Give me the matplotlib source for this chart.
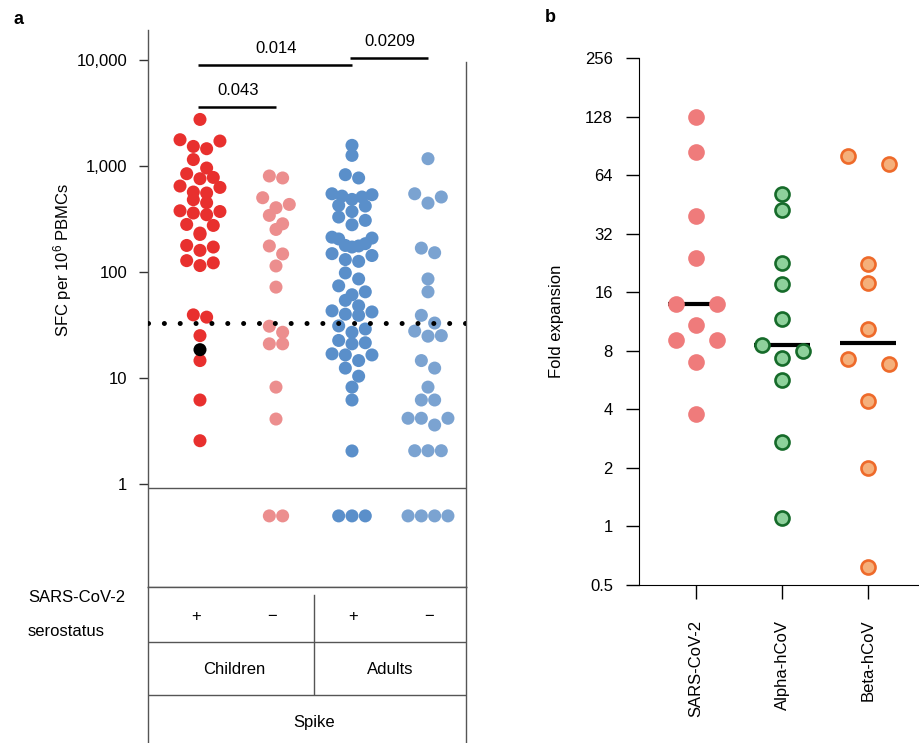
import numpy as np
import matplotlib
matplotlib.use("Agg")
import matplotlib.pyplot as plt

plt.rcParams['font.family'] = ['Liberation Sans', 'DejaVu Sans']
plt.rcParams['mathtext.fontset'] = 'custom'
plt.rcParams['mathtext.rm'] = 'Liberation Sans'
plt.rcParams['mathtext.it'] = 'Liberation Sans:italic'
plt.rcParams['mathtext.bf'] = 'Liberation Sans:bold'

# ---------------- data: panel a ----------------
children_pos = [2750, 1770, 1720, 1530, 1456, 1150, 957, 846, 780, 759, 647, 628,
                568, 556, 481, 450, 378, 372, 360, 347, 281, 275, 233, 226, 178,
                172, 160, 128, 122, 115, 39.4, 37.5, 25.1, 14.6, 6.2, 2.56]
children_pos_black = [18.5]
children_neg = [805, 771, 502, 434, 404, 342, 285, 252, 176, 148, 114, 72, 30.8,
                27, 21, 21, 8.2, 4.1, 0.5, 0.5]
adults_pos = [1566, 1259, 828, 771, 547, 536, 520, 510, 484, 425, 419, 372, 330,
              307, 279, 213, 209, 205, 185, 178, 176, 172, 149, 143, 131, 126, 98,
              86, 74, 65, 61, 54, 48, 43, 42, 40, 39, 31, 29, 27, 22.6, 21.5, 21,
              16.9, 16.5, 16.5, 14.6, 12.4, 10.4, 8.2, 6.2, 2.05, 0.5, 0.5, 0.5]
adults_neg = [1172, 547, 510, 447, 168, 152, 86, 65, 39, 33, 27.7, 25.1, 24.8, 14.6,
              12.4, 8.2, 6.2, 6.2, 4.17, 4.17, 4.17, 3.6, 2.06, 2.06, 2.06,
              0.5, 0.5, 0.5, 0.5]
serostatus = ['+', '\u2212', '+', '\u2212']
age_groups = ['Children', 'Adults']
antigen = 'Spike'
threshold = 33
lod_line = 0.92
yticks_a = [1, 10, 100, 1000, 10000]
yticklabels_a = ['1', '10', '100', '1,000', '10,000']
sig_pairs = [(0, 1), (0, 2), (2, 3)]
sig_labels = ['0.043', '0.014', '0.0209']
sig_heights = [3600, 8970, 10450]

# ---------------- data: panel b ----------------
b_groups = ['SARS-CoV-2', 'Alpha-hCoV', 'Beta-hCoV']
sars = [127, 84, 39.4, 24.1, 13.9, 13.9, 10.9, 9.04, 9.04, 7.0, 3.77]
alpha = [51.4, 42.5, 22.6, 17.7, 11.7, 8.56, 8.0, 7.36, 5.67, 2.71, 1.11]
beta = [80.3, 73.4, 22.4, 17.9, 10.3, 7.25, 6.88, 4.43, 1.99, 0.618]
yticks_b = [0.5, 1, 2, 4, 8, 16, 32, 64, 128, 256]
yticklabels_b = ['0.5', '1', '2', '4', '8', '16', '32', '64', '128', '256']

# ---------------- helpers ----------------
W, H = 919, 743


def px_rect(left, top, right, bottom):
    return [left / W, 1 - bottom / H, (right - left) / W, (bottom - top) / H]


def row_offsets(n, slot, even_skip_center, cap):
    if n % 2 == 1:
        k = np.arange(n) - (n - 1) / 2
    else:
        half = np.arange(1, n // 2 + 1) if even_skip_center else np.arange(n // 2) + 0.5
        k = np.concatenate([-half, half])
    offs = k * slot
    if cap is not None and np.abs(offs).max() > cap:
        offs = offs * cap / np.abs(offs).max()
    return sorted(offs, key=lambda o: (-abs(o), o))


def swarm_x(ax, values, center, slot_px, row_px, even_skip_center=False, cap_px=None):
    vals = np.asarray(values, float)
    idx = np.argsort(-vals, kind='stable')
    ypx = ax.transData.transform(np.column_stack([np.zeros_like(vals), vals]))[:, 1]
    ppu = ax.transData.transform((1, 1))[0] - ax.transData.transform((0, 1))[0]
    xs = np.full(len(vals), float(center))
    i = 0
    while i < len(idx):
        start = ypx[idx[i]]
        j = i
        while j < len(idx) and start - ypx[idx[j]] <= row_px:
            j += 1
        members = idx[i:j]
        offs = row_offsets(len(members), slot_px, even_skip_center, cap_px)
        for m, o in zip(members, offs):
            xs[m] = center + o / ppu
        i = j
    return xs


fig = plt.figure(figsize=(W / 100, H / 100), dpi=100)
grey = '#555555'

# ---------------- panel a ----------------
ax = fig.add_axes(px_rect(148, 30, 466, 587))
ax.set_yscale('log')
ax.set_ylim(0.1067, 19190)
ax.set_xlim(-0.684, 3.5)
for s in ['top']:
    ax.spines[s].set_visible(False)
for s in ['left', 'right', 'bottom']:
    ax.spines[s].set_color(grey)
    ax.spines[s].set_linewidth(1.0)
ax.spines['right'].set_bounds(0.1067, 9570)
ax.set_xticks([])
ax.set_yticks(yticks_a)
ax.set_yticklabels(yticklabels_a)
ax.minorticks_off()
ax.yaxis.set_minor_locator(matplotlib.ticker.NullLocator())
ax.tick_params(axis='y', length=6.5, width=1.0, color='#333333', pad=8.6, labelsize=12)

ax.axhline(lod_line, color=grey, lw=1.0, zorder=1)

dot_s = 88
cp_all = children_pos + children_pos_black
cp_cols = ['#E8302E'] * len(children_pos) + ['#000000'] * len(children_pos_black)
columns = [(cp_all, cp_cols),
           (children_neg, ['#EC8E8E'] * len(children_neg)),
           (adults_pos, ['#5A8FCA'] * len(adults_pos)),
           (adults_neg, ['#7BA3D1'] * len(adults_neg))]
for ci, (vals, cols) in enumerate(columns):
    xs = swarm_x(ax, vals, ci, slot_px=13.3, row_px=10, cap_px=20)
    ax.scatter(xs, vals, s=dot_s, c=cols, linewidths=0, zorder=3)

ax.axhline(threshold, color='k', lw=3.6, linestyle=(0, (0.01, 3.16)),
           dash_capstyle='round', zorder=4)

for (g1, g2), lab, h in zip(sig_pairs, sig_labels, sig_heights):
    ax.plot([g1 - 0.02, g2 + 0.0], [h, h], color='k', lw=1.8, solid_capstyle='butt',
            clip_on=False, zorder=5)
    ax.text((g1 + g2) / 2, h * 1.42, lab, ha='center', va='center', fontsize=12)

fig.text(63 / W, 1 - 260 / H, 'SFC per 10$^6$ PBMCs', rotation=90,
         ha='center', va='center', fontsize=12)
fig.text(14 / W, 1 - 20 / H, 'a', fontsize=13, fontweight='bold', ha='left', va='center')

# table below panel a
axt = fig.add_axes(px_rect(148, 587, 466, 743))
axt.set_xlim(-0.684, 3.5)
axt.set_ylim(0, 156)
axt.set_xticks([])
axt.set_yticks([])
axt.spines['bottom'].set_visible(False)
for s in ['left', 'right', 'top']:
    axt.spines[s].set_color(grey)
    axt.spines[s].set_linewidth(1.0)
axt.axhline(101, color=grey, lw=1.0)
axt.axhline(48, color=grey, lw=1.0)
axt.plot([1.5, 1.5], [49, 148], color=grey, lw=1.0)
for ci, lab in enumerate(serostatus):
    axt.text(ci - 0.05 if ci < 2 else ci + 0.02, 126, lab, ha='center', va='center', fontsize=12)
for gi, lab in enumerate(age_groups):
    axt.text(0.45 + 2.05 * gi, 74, lab, ha='center', va='center', fontsize=12)
axt.text(1.5, 21, antigen, ha='center', va='center', fontsize=12)
fig.text(28 / W, 1 - 598 / H, 'SARS-CoV-2', ha='left', va='center', fontsize=12)
fig.text(28 / W, 1 - 632 / H, 'serostatus', ha='left', va='center', fontsize=12)

# ---------------- panel b ----------------
bx = fig.add_axes(px_rect(639, 58, 919, 585))
bx.set_yscale('log', base=2)
bx.set_ylim(0.5, 256)
bx.set_xlim(-0.663, 2.593)
bx.spines['top'].set_visible(False)
bx.spines['right'].set_visible(False)
bx.set_yticks(yticks_b)
bx.set_yticklabels(yticklabels_b)
bx.yaxis.set_minor_locator(matplotlib.ticker.NullLocator())
bx.set_xticks(range(len(b_groups)))
bx.set_xticklabels(b_groups, rotation=90)
bx.tick_params(axis='y', length=9.4, width=1.0, pad=9.4, labelsize=12)
bx.tick_params(axis='x', length=10, width=1.0, pad=15, labelsize=12)

b_styles = [(sars, '#EF7B7B', '#EF7B7B', 0.0, 144),
            (alpha, '#8ED19B', '#166B2A', 1.9, 102),
            (beta, '#F5B07B', '#EE6A2A', 1.9, 102)]
for gi, (vals, fc, ec, lw, s) in enumerate(b_styles):
    med = np.median(vals)
    bx.plot([gi - 0.33, gi + 0.33], [med, med], color='k', lw=3.0,
            solid_capstyle='butt', zorder=2)
    xs = swarm_x(bx, vals, gi, slot_px=20.5, row_px=14, even_skip_center=True)
    bx.scatter(xs, vals, s=s, facecolor=fc, edgecolor=ec, linewidths=lw, zorder=3)

fig.text(556 / W, 1 - 321 / H, 'Fold expansion', rotation=90, ha='center',
         va='center', fontsize=12)
fig.text(545 / W, 1 - 18 / H, 'b', fontsize=13, fontweight='bold', ha='left', va='center')

fig.savefig('out.png', dpi=100)
